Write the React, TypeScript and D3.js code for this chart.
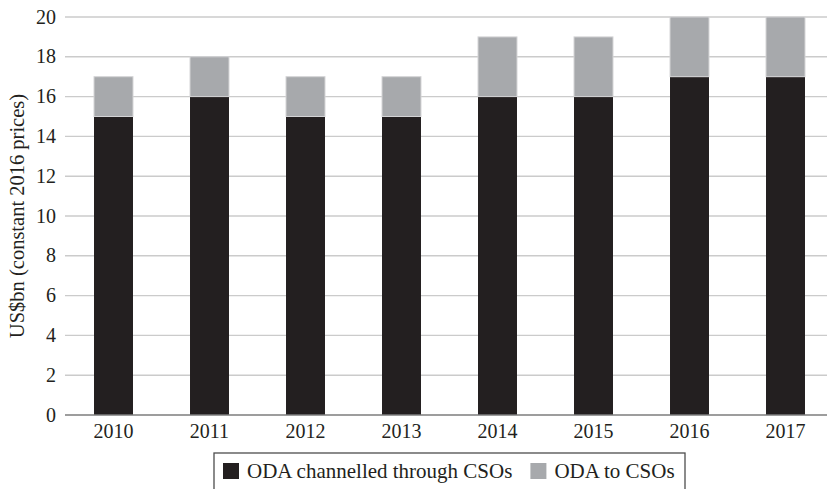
import { useEffect, useRef } from 'react'
import * as d3 from 'd3'

const YEARS = ['2010', '2011', '2012', '2013', '2014', '2015', '2016', '2017']
const THROUGH_CSOS = [15, 16, 15, 15, 16, 16, 17, 17]
const TO_CSOS = [2, 2, 2, 2, 3, 3, 3, 3]
const Y_TICKS = [0, 2, 4, 6, 8, 10, 12, 14, 16, 18, 20]
const LEGEND = ['ODA channelled through CSOs', 'ODA to CSOs']

const W = 827
const H = 489
const FONT = '"Liberation Serif", "Times New Roman", serif'
const COLORS = ['#231f20', '#a7a9ac']

export default function App() {
  const svgRef = useRef<SVGSVGElement>(null)

  useEffect(() => {
    if (!svgRef.current) return
    const svg = d3.select(svgRef.current)
    svg.selectAll('*').remove()

    const x = d3.scaleBand().domain(YEARS).range([65.5, 833.5]).paddingInner(0.594).paddingOuter(0.297)
    const y = d3.scaleLinear().domain([0, 20]).range([415, 17])

    const g = svg.append('g')

    // gridlines
    g.append('g')
      .selectAll('line')
      .data(Y_TICKS.filter(t => t > 0))
      .join('line')
      .attr('x1', 65).attr('x2', W)
      .attr('y1', d => y(d)).attr('y2', d => y(d))
      .attr('stroke', '#cbcbcb').attr('stroke-width', 1.4)

    // y tick labels
    g.append('g')
      .selectAll('text')
      .data(Y_TICKS)
      .join('text')
      .attr('x', 56).attr('y', d => y(d))
      .attr('dy', '0.33em')
      .attr('text-anchor', 'end')
      .style('font-family', FONT).style('font-size', '20px').style('fill', '#231f20')
      .text(d => d)

    // stacked bars
    const stack = YEARS.map((yr, i) => ({ yr, a: THROUGH_CSOS[i], b: TO_CSOS[i] }))
    const bars = g.append('g')
    bars.selectAll('rect.a')
      .data(stack)
      .join('rect')
      .attr('class', 'a')
      .attr('x', d => x(d.yr)!).attr('width', x.bandwidth())
      .attr('y', d => y(d.a)).attr('height', d => y(0) - y(d.a))
      .attr('fill', COLORS[0])
    bars.selectAll('rect.b')
      .data(stack)
      .join('rect')
      .attr('class', 'b')
      .attr('x', d => x(d.yr)!).attr('width', x.bandwidth())
      .attr('y', d => y(d.a + d.b)).attr('height', d => y(d.a) - y(d.a + d.b))
      .attr('fill', COLORS[1])
      .attr('stroke', '#d4d4d6').attr('stroke-width', 1)

    // baseline
    g.append('line')
      .attr('x1', 65).attr('x2', W)
      .attr('y1', y(0)).attr('y2', y(0))
      .attr('stroke', '#7d7d7d').attr('stroke-width', 1.5)

    // x labels
    g.append('g')
      .selectAll('text')
      .data(YEARS)
      .join('text')
      .attr('x', d => x(d)! + x.bandwidth() / 2).attr('y', 438)
      .attr('text-anchor', 'middle')
      .style('font-family', FONT).style('font-size', '20px').style('fill', '#231f20')
      .text(d => d)

    // y title
    g.append('text')
      .attr('transform', `translate(24,${(y(0) + y(20)) / 2}) rotate(-90)`)
      .attr('text-anchor', 'middle')
      .style('font-family', FONT).style('font-size', '20.5px').style('fill', '#231f20')
      .text('US$bn (constant 2016 prices)')

    // legend
    const leg = g.append('g')
    leg.append('rect')
      .attr('x', 214).attr('y', 453).attr('width', 471).attr('height', 60)
      .attr('fill', 'none').attr('stroke', '#4d4d4d').attr('stroke-width', 1.3)
    let lx = 223
    LEGEND.forEach((label, i) => {
      leg.append('rect')
        .attr('x', lx).attr('y', 463).attr('width', 16).attr('height', 16)
        .attr('fill', COLORS[i])
      const t = leg.append('text')
        .attr('x', lx + 24).attr('y', 478)
        .style('font-family', FONT).style('font-size', '21px').style('fill', '#231f20')
        .text(label)
      const len = (t.node() as SVGTextElement).getComputedTextLength()
      lx = lx + 24 + len + 18
    })
  }, [])

  return (
    <div style={{ position: 'absolute', left: 0, top: 0 }}>
      <svg ref={svgRef} width={W} height={H} style={{ display: 'block', background: '#fff' }} />
    </div>
  )
}
